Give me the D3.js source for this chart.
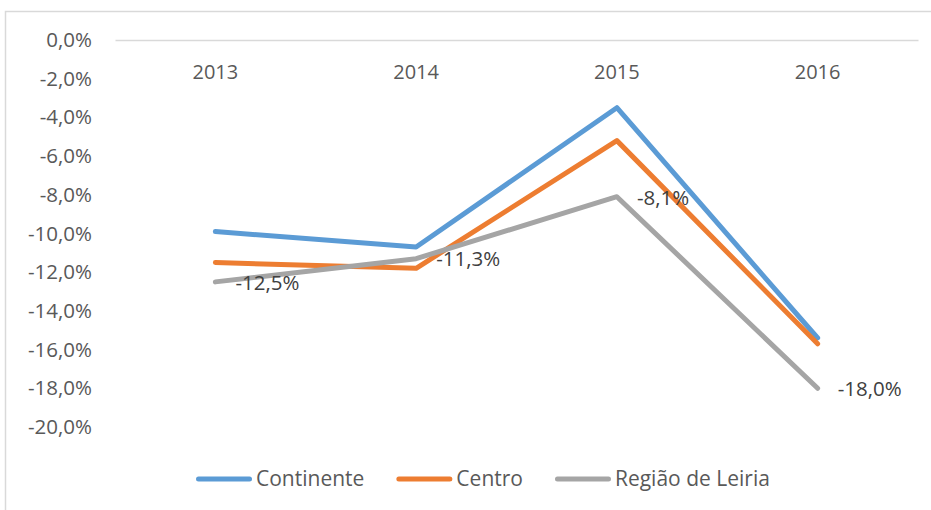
<!DOCTYPE html>
<html>
<head>
<meta charset="utf-8">
<script src="https://cdn.jsdelivr.net/npm/d3@7"></script>
<style>
  body { margin: 0; background: #fff; }
  svg { display: block; font-family: "Open Sans", sans-serif; }
</style>
</head>
<body>
<div id="chart"></div>
<script>

var years = ["2013", "2014", "2015", "2016"]
var continente = [-9.9, -10.7, -3.5, -15.4]
var centro = [-11.5, -11.8, -5.2, -15.7]
var leiria = [-12.5, -11.3, -8.1, -18.0]
var yTicks = [0, -2, -4, -6, -8, -10, -12, -14, -16, -18, -20]

var series = [
  { name: "Continente", values: continente, color: "#5b9bd5" },
  { name: "Centro", values: centro, color: "#ed7d31" },
  { name: "Região de Leiria", values: leiria, color: "#a5a5a5", labels: true }
]

function pct(v) {
  return v.toFixed(1).replace(".", ",") + "%"
}

function buildChart() {

  var width = 931, height = 510

  var svg = d3.select("#chart").append("svg")
    .attr("width", width)
    .attr("height", height)

  // chart frame (right and bottom run off the picture)
  svg.append("rect")
    .attr("x", 5.5).attr("y", 11.5)
    .attr("width", 960).attr("height", 520)
    .attr("fill", "none")
    .attr("stroke", "#d9d9d9")
    .attr("stroke-width", 1.5)

  var x = d3.scaleBand().domain(years).range([115, 918]).padding(0)
  var y = d3.scaleLinear().domain([-20, 0]).range([427, 40])

  function cx(d) { return x(d) + x.bandwidth() / 2 }

  // y axis labels, no axis line
  var yAxis = d3.axisLeft(y).tickValues(yTicks).tickFormat(pct).tickSize(0).tickPadding(0)
  var gy = svg.append("g").attr("transform", "translate(92,0)").call(yAxis)
  gy.select(".domain").remove()
  gy.selectAll("text")
    .attr("fill", "#595959")
    .style("font-size", "20.5px")
    .style("font-family", "'Open Sans', sans-serif")

  // category axis sits on the zero line
  var xAxis = d3.axisBottom(x).tickSize(0).tickPadding(0)
  var gx = svg.append("g").attr("transform", "translate(0," + y(0) + ")").call(xAxis)
  gx.select(".domain")
    .attr("stroke", "#d9d9d9")
    .attr("stroke-width", 1.5)
  gx.selectAll("text")
    .attr("y", 32)
    .attr("dy", "0.35em")
    .attr("fill", "#595959")
    .style("font-size", "20px")
    .style("font-family", "'Open Sans', sans-serif")

  var line = d3.line()
    .x((d, i) => cx(years[i]))
    .y(d => y(d))

  series.forEach(function (s) {
    svg.append("path")
      .datum(s.values)
      .attr("d", line)
      .attr("fill", "none")
      .attr("stroke", s.color)
      .attr("stroke-width", 5)
      .attr("stroke-linejoin", "round")
      .attr("stroke-linecap", "round")
  })

  // data labels only on Região de Leiria
  series.filter(s => s.labels).forEach(function (s) {
    svg.selectAll(null)
      .data(s.values)
      .enter().append("text")
      .attr("x", (d, i) => cx(years[i]) + 20)
      .attr("y", d => y(d))
      .attr("dy", "0.38em")
      .attr("fill", "#404040")
      .style("font-size", "20.5px")
      .text(d => pct(d))
  })

  // legend
  var lx = 196
  var ly = 479
  series.forEach(function (s) {
    svg.append("line")
      .attr("x1", lx + 2.5).attr("x2", lx + 53.5)
      .attr("y1", ly).attr("y2", ly)
      .attr("stroke", s.color)
      .attr("stroke-width", 5)
      .attr("stroke-linecap", "round")
    var t = svg.append("text")
      .attr("x", lx + 60)
      .attr("y", ly)
      .attr("dy", "0.35em")
      .attr("fill", "#595959")
      .style("font-size", "21px")
      .text(s.name)
    lx = lx + 60 + t.node().getComputedTextLength() + 32
  })
}

buildChart()
</script>
</body>
</html>
